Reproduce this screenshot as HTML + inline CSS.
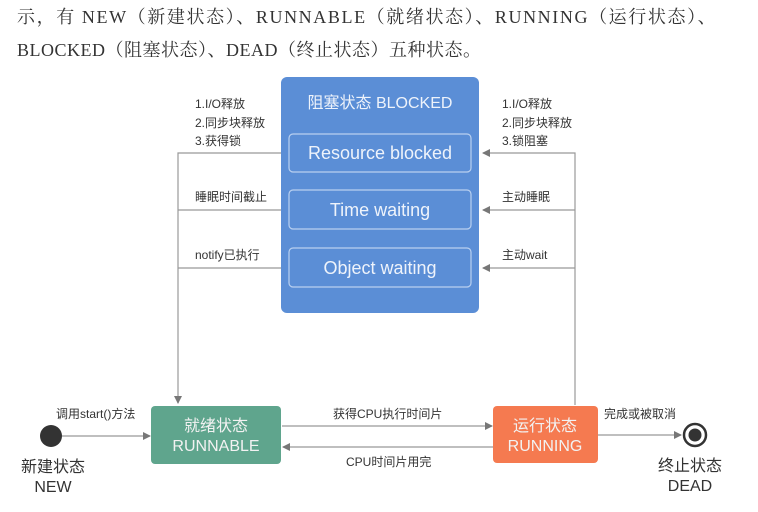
<!DOCTYPE html>
<html><head><meta charset="utf-8"><style>
body{margin:0;background:#fff;width:758px;height:512px;overflow:hidden;position:relative}
.t{position:absolute;font-family:"Liberation Serif","Noto Serif CJK SC",serif;font-size:18px;color:#333;white-space:nowrap}
svg text{font-family:"Liberation Sans","Noto Sans CJK SC",sans-serif}
</style></head><body>
<div class="t" style="left:17px;top:3px;letter-spacing:1.6px">示，有 NEW（新建状态）、RUNNABLE（就绪状态）、RUNNING（运行状态）、</div>
<div class="t" style="left:17px;top:36px;letter-spacing:0.5px">BLOCKED（阻塞状态）、DEAD（终止状态）五种状态。</div>
<svg width="758" height="512" style="position:absolute;left:0;top:0">
<defs><marker id="a" markerWidth="8" markerHeight="8" refX="7" refY="4" orient="auto" markerUnits="userSpaceOnUse"><path d="M0,0L8,4L0,8z" fill="#777"/></marker></defs>
<g stroke="#999" stroke-width="1.2" fill="none">
<path d="M281,153H178V403" marker-end="url(#a)"/>
<path d="M281,210H178M281,268H178"/>
<path d="M575,405V153H483" marker-end="url(#a)"/>
<path d="M575,210H483" marker-end="url(#a)"/>
<path d="M575,268H483" marker-end="url(#a)"/>
<path d="M62,436H150" marker-end="url(#a)"/>
<path d="M282,426H492" marker-end="url(#a)"/>
<path d="M493,447H283" marker-end="url(#a)"/>
<path d="M598,435H681" marker-end="url(#a)"/>
</g>
<rect x="281" y="77" width="198" height="236" rx="6" fill="#5b8ed6"/>
<g fill="none" stroke="#b9d0f0" stroke-width="1.2">
<rect x="289" y="134" width="182" height="38" rx="4"/>
<rect x="289" y="190" width="182" height="39" rx="4"/>
<rect x="289" y="248" width="182" height="39" rx="4"/>
</g>
<g fill="#eef3fb" text-anchor="middle">
<text x="380" y="108" font-size="16">阻塞状态 BLOCKED</text>
<text x="380" y="159" font-size="18">Resource blocked</text>
<text x="380" y="216" font-size="18">Time waiting</text>
<text x="380" y="274" font-size="18">Object waiting</text>
</g>
<rect x="151" y="406" width="130" height="58" rx="4" fill="#5fa58d"/>
<rect x="493" y="406" width="105" height="57" rx="4" fill="#f57a50"/>
<g fill="#f2f2f2" text-anchor="middle" font-size="16">
<text x="216" y="431">就绪状态</text><text x="216" y="451">RUNNABLE</text>
<text x="545" y="431">运行状态</text><text x="545" y="451">RUNNING</text>
</g>
<circle cx="51" cy="436" r="11" fill="#333"/>
<circle cx="695" cy="435" r="11" fill="#fff" stroke="#333" stroke-width="2.5"/>
<circle cx="695" cy="435" r="6.5" fill="#333"/>
<g fill="#333" font-size="12">
<text x="195" y="108">1.I/O释放</text><text x="195" y="127">2.同步块释放</text><text x="195" y="145">3.获得锁</text>
<text x="195" y="201">睡眠时间截止</text><text x="195" y="259">notify已执行</text>
<text x="502" y="108">1.I/O释放</text><text x="502" y="127">2.同步块释放</text><text x="502" y="145">3.锁阻塞</text>
<text x="502" y="201">主动睡眠</text><text x="502" y="259">主动wait</text>
<text x="56" y="418">调用start()方法</text>
<text x="333" y="418">获得CPU执行时间片</text>
<text x="346" y="466">CPU时间片用完</text>
<text x="604" y="418">完成或被取消</text>
</g>
<g fill="#333" font-size="16" text-anchor="middle">
<text x="53" y="472">新建状态</text><text x="53" y="492">NEW</text>
<text x="690" y="471">终止状态</text><text x="690" y="491">DEAD</text>
</g>
</svg>
</body></html>
